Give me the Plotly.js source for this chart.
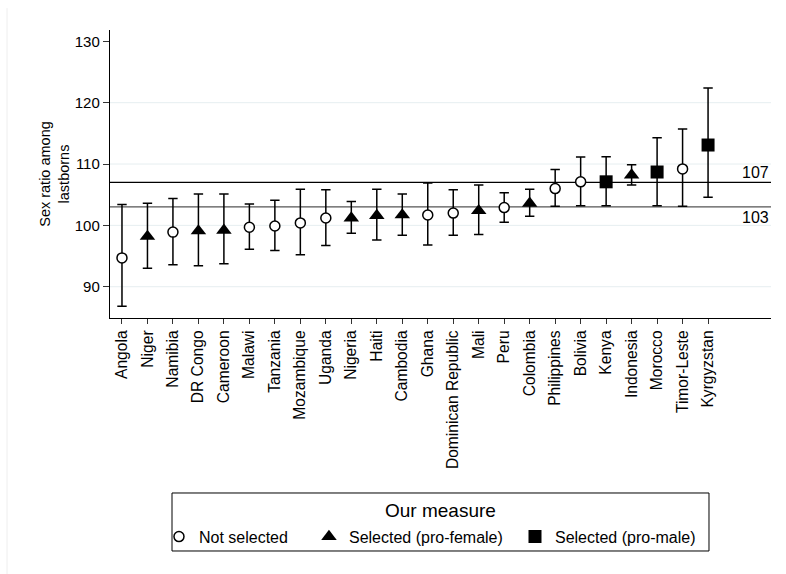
<!DOCTYPE html>
<html>
<head>
<meta charset="utf-8">
<script src="https://cdn.plot.ly/plotly-3.0.1.min.js"></script>
<style>html,body{margin:0;padding:0;background:#fff;}#chart{width:786px;height:574px;}</style>
</head>
<body>
<div id="chart"></div>
<script>
// ---- data ----
const countries = ["Angola","Niger","Namibia","DR Congo","Cameroon","Malawi","Tanzania","Mozambique","Uganda","Nigeria","Haiti","Cambodia","Ghana","Dominican Republic","Mali","Peru","Colombia","Philippines","Bolivia","Kenya","Indonesia","Morocco","Timor-Leste","Kyrgyzstan"];
const ratio = [94.7,98.2,98.9,99.1,99.2,99.7,99.9,100.4,101.2,101.2,101.6,101.7,101.7,102.0,102.4,102.9,103.6,106.0,107.1,107.1,108.2,108.7,109.2,113.1];
const lower = [86.8,93.0,93.6,93.4,93.75,96.1,95.9,95.2,96.7,98.7,97.6,98.4,96.8,98.4,98.5,100.5,101.5,103.1,103.2,103.2,106.6,103.2,103.1,104.6];
const upper = [103.4,103.6,104.4,105.1,105.1,103.5,104.1,105.9,105.8,103.9,105.9,105.1,106.9,105.8,106.6,105.3,105.9,109.1,111.15,111.2,109.9,114.3,115.7,122.4];
const group = ["not","female","not","female","female","not","not","not","not","female","female","female","not","not","female","not","female","not","not","male","female","male","not","male"];
const groupKeys = ["not","female","male"];
const groupNames = ["Not selected","Selected (pro-female)","Selected (pro-male)"];
const legendTitle = "Our measure";
const yTitle = "Sex ratio among<br>lastborns";
const refLines = [107,103];
const gridVals = [90,100,110,120];
const yTicks = [90,100,110,120,130];

const symbols = {not:"circle", female:"triangle-up", male:"square"};
const sizes = {not:10, female:13.5, male:13};
const fills = {not:"#ffffff", female:"#000000", male:"#000000"};
const legendIds = ["legend","legend2","legend3"];
const legendX = [0.0741, 0.301, 0.6127];

const traces = groupKeys.map((g, k) => {
  const idx = countries.map((c,i)=>i).filter(i => group[i] === g);
  return {
    type: "scatter", mode: "markers", name: groupNames[k], legend: legendIds[k],
    x: idx.map(i => countries[i]),
    y: idx.map(i => ratio[i]),
    error_y: {type:"data", symmetric:false,
      array: idx.map(i => upper[i]-ratio[i]),
      arrayminus: idx.map(i => ratio[i]-lower[i]),
      color:"#000", thickness:1.5, width:4.7},
    marker: {symbol: symbols[g], size: sizes[g], color: fills[g],
      line: {color:"#000", width: g === "not" ? 1.5 : 0}},
    cliponaxis: false
  };
});

const shapes = [];
gridVals.forEach(v => shapes.push({type:"line", xref:"paper", x0:0, x1:1, yref:"y", y0:v, y1:v, line:{color:"#e6eef0", width:1}, layer:"below"}));
refLines.forEach((v,k) => shapes.push({type:"line", xref:"paper", x0:0, x1:1, yref:"y", y0:v, y1:v, line:{color: k===0 ? "#000" : "#555", width:1.2}, layer:"below"}));
// faint frame line at the far left
shapes.push({type:"line", xref:"paper", yref:"paper", x0:-0.1558, x1:-0.1558, y0:1.076, y1:-0.9, line:{color:"#eeeeee", width:1}});
// legend box
shapes.push({type:"rect", xref:"paper", yref:"paper", x0:0.0938, x1:0.9062, y0:-0.809, y1:-0.6076, line:{color:"#000", width:1}, fillcolor:"rgba(0,0,0,0)"});

const annotations = [
  {xref:"paper", x:1, xanchor:"right", yref:"y", y:refLines[0], yanchor:"bottom", yshift:-1, text:String(refLines[0]), showarrow:false, font:{size:16, color:"#000"}},
  {xref:"paper", x:1, xanchor:"right", yref:"y", y:refLines[1], yanchor:"top", yshift:0, text:String(refLines[1]), showarrow:false, font:{size:16, color:"#000"}},
  {xref:"paper", x:0.5, xanchor:"center", yref:"paper", y:-0.669, yanchor:"middle", text:legendTitle, showarrow:false, font:{size:19, color:"#000"}}
];

const layout = {
  width:786, height:574,
  margin:{l:110, r:15, t:30, b:256},
  paper_bgcolor:"#fff", plot_bgcolor:"#fff",
  font:{family:"Liberation Sans, Arial, sans-serif", size:15, color:"#000"},
  showlegend:true,
  xaxis:{type:"category", categoryorder:"array", categoryarray:countries,
    range:[-0.47,25.47], showgrid:false, zeroline:false,
    showline:true, linecolor:"#000", linewidth:1.2,
    ticks:"outside", ticklen:5, tickcolor:"#333", tickwidth:1,
    tickangle:-90, tickfont:{size:15.6}},
  yaxis:{range:[84.9,131.85], tickvals:yTicks, showgrid:false, zeroline:false,
    showline:true, linecolor:"#000", linewidth:1.2,
    ticks:"outside", ticklen:6, tickcolor:"#333", tickwidth:1,
    tickfont:{size:15},
    title:{text:yTitle, font:{size:14.5}, standoff:1}},
  shapes: shapes,
  annotations: annotations
};
legendIds.forEach((id,k) => {
  layout[id] = {orientation:"h", x:legendX[k], xanchor:"left", y:-0.7594, yanchor:"middle",
    borderwidth:0, bgcolor:"rgba(0,0,0,0)", font:{size:16}, itemwidth:30};
});

Plotly.newPlot("chart", traces, layout, {displayModeBar:false, staticPlot:true});
</script>
</body>
</html>
